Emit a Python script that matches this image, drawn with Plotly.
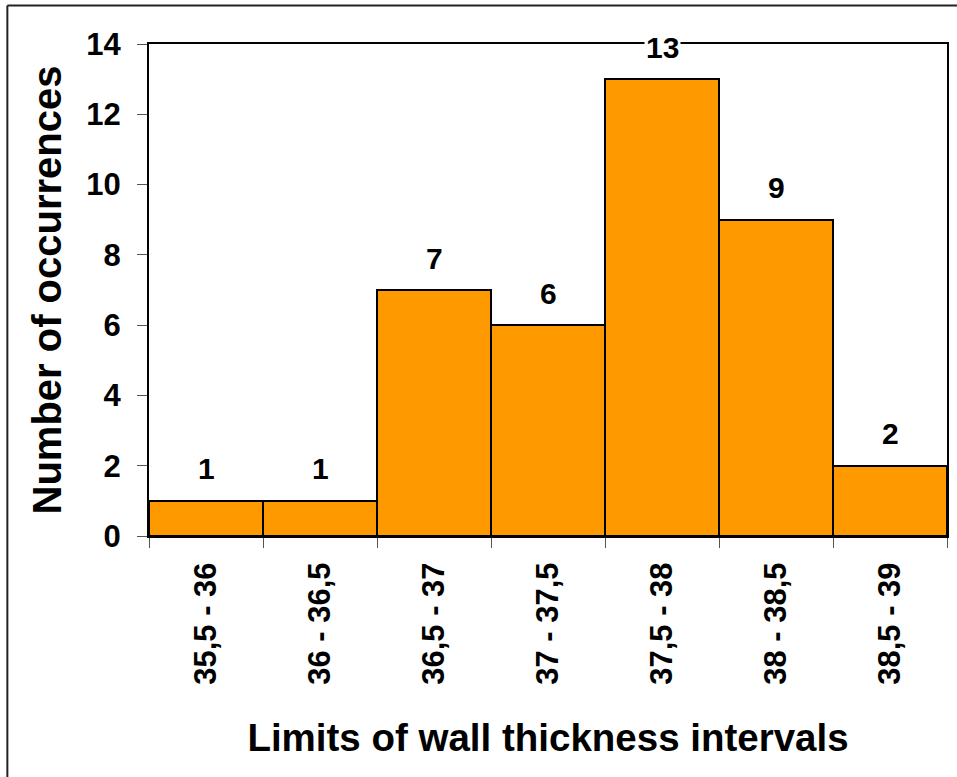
import plotly.graph_objects as go

categories = ["35,5 - 36", "36 - 36,5", "36,5 - 37", "37 - 37,5", "37,5 - 38", "38 - 38,5", "38,5 - 39"]
counts = [1, 1, 7, 6, 13, 9, 2]
y_ticks = [0, 2, 4, 6, 8, 10, 12, 14]

FONT = "Liberation Sans, Arial, sans-serif"

fig = go.Figure()
fig.add_trace(go.Bar(
    x=categories, y=counts,
    marker=dict(color="#FF9900", line=dict(color="black", width=2)),
    hoverinfo="skip",
))

for c, v in zip(categories, counts):
    fig.add_annotation(
        x=c, y=v, xref="x", yref="y", text=str(v), showarrow=False,
        yanchor="middle", yshift=32, bgcolor="white",
        font=dict(family=FONT, size=30, color="black", weight="bold"),
    )

# outer frame of the picture (left and top edges visible)
fig.add_shape(type="line", xref="paper", yref="paper",
              x0=(7 - 149) / 800, x1=(7 - 149) / 800,
              y0=(536 - 5.5) / 492, y1=(536 - 790) / 492,
              line=dict(color="#222222", width=2))
fig.add_shape(type="line", xref="paper", yref="paper",
              x0=(7 - 149) / 800, x1=(970 - 149) / 800,
              y0=(536 - 5.5) / 492, y1=(536 - 5.5) / 492,
              line=dict(color="#222222", width=2))

fig.update_layout(
    width=957, height=777,
    margin=dict(l=149, r=8, t=44, b=241),
    paper_bgcolor="white", plot_bgcolor="white",
    bargap=0, showlegend=False,
    font=dict(family=FONT, color="black"),
)
fig.update_xaxes(
    type="category", showline=True, linecolor="black", linewidth=2, mirror=True,
    ticks="outside", ticklen=10, tickcolor="#555555", tickwidth=1, tickson="boundaries",
    tickangle=-90, ticklabelstandoff=12,
    tickfont=dict(family=FONT, size=31, color="black", weight="bold"),
    showgrid=False,
    title=dict(text="Limits of wall thickness intervals", standoff=40,
               font=dict(family=FONT, size=38.5, color="black", weight="bold")),
)
fig.update_yaxes(
    range=[0, 14], tickvals=y_ticks, showline=True, linecolor="black", linewidth=2, mirror=True,
    ticks="outside", ticklen=10, tickcolor="#555555", tickwidth=1,
    ticklabelstandoff=10,
    tickfont=dict(family=FONT, size=31, color="black", weight="bold"),
    showgrid=False, zeroline=False,
    title=dict(text="Number of occurrences", standoff=12,
               font=dict(family=FONT, size=40, color="black", weight="bold")),
)

fig.write_html("out.html")
